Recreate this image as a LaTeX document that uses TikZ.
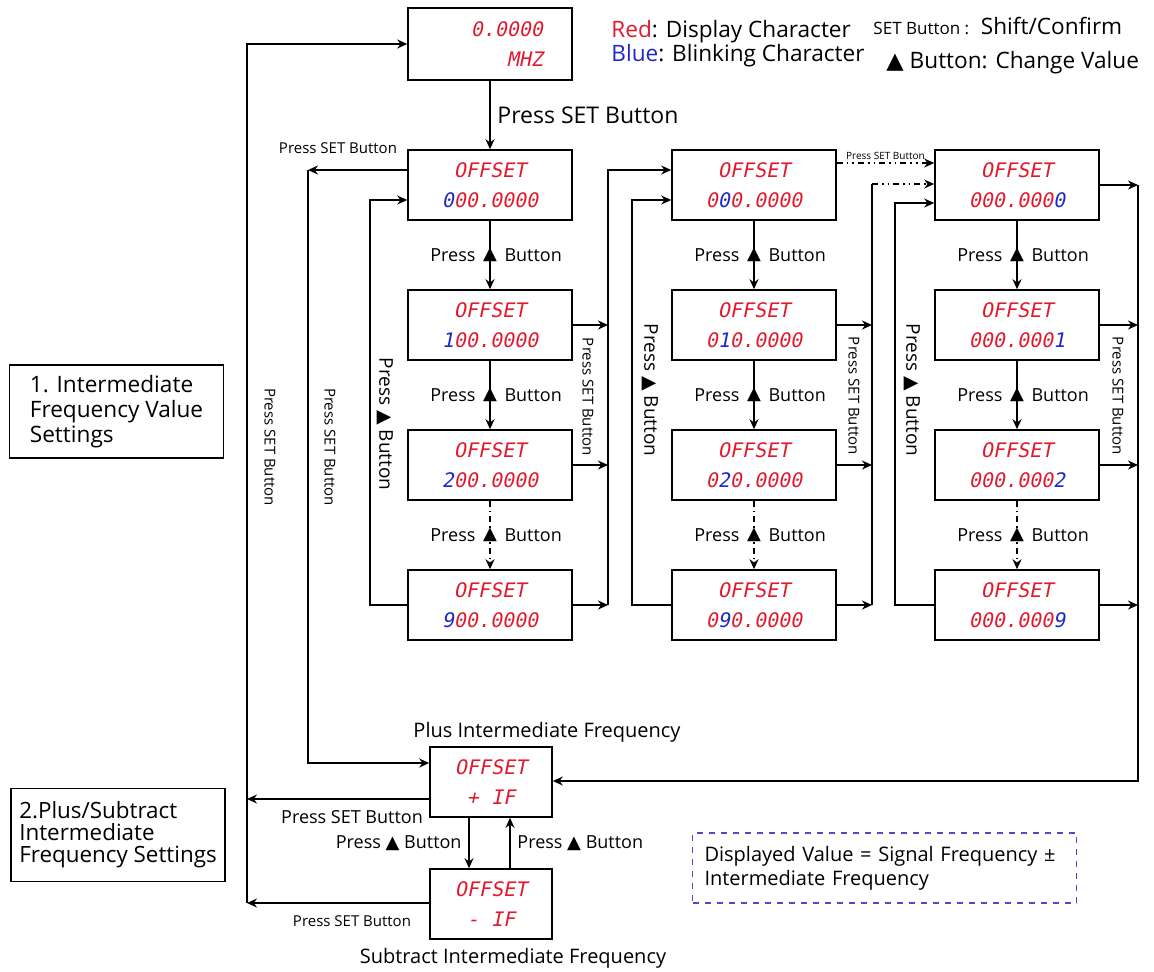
\documentclass[tikz,border=0pt]{standalone}
\usepackage{fontspec}
\setmainfont{Open Sans}
\newfontfamily\lcdfont[FakeSlant=0.2]{DejaVu Sans Mono}
\newfontfamily\symfont{DejaVu Sans}
\usetikzlibrary{arrows.meta}
\definecolor{lcdred}{RGB}{225,25,45}
\definecolor{lcdblue}{RGB}{30,40,200}
\definecolor{notecol}{RGB}{85,70,200}
\newcommand{\tri}{{\symfont ▲}}
\newcommand{\digits}[3]{\textcolor{lcdred}{#1}\textcolor{lcdblue}{#2}\textcolor{lcdred}{#3}}
\tikzset{
  >={Stealth[length=5pt,width=4.5pt]},
  lcd/.style={draw, thick, minimum width=82pt, minimum height=35pt, inner sep=0pt,
    align=center, text=lcdred, font=\lcdfont\fontsize{10}{15}\selectfont},
  secbox/.style={draw, thick, minimum width=107pt, minimum height=46.5pt, align=left},
  btnlab/.style={font=\fontsize{9}{10}\selectfont, inner sep=2.5pt},
  btn/.style={inner sep=0.5pt, font=\fontsize{9}{10}\selectfont,
    label={[btnlab]left:Press}, label={[btnlab]right:Button}},
  vset/.style={rotate=-90, font=\fontsize{7.5}{8}\selectfont},
  vbtn/.style={rotate=-90, font=\fontsize{9.5}{10}\selectfont},
  small/.style={font=\fontsize{7.5}{8}\selectfont},
  skip/.style={dash pattern=on 3pt off 2pt on 0.8pt off 2pt}
}
\begin{document}
\begin{tikzpicture}[x=0.5pt, y=-0.5pt, thick]
\useasboundingbox (0,0) rectangle (1154,971);
% Start display
\node[lcd, text width=53pt, align=right, minimum height=36pt] (mhz) at (490,44) {0.0000\\MHZ};
% Legend
\node[anchor=west, align=left, font=\fontsize{11.3}{12}\selectfont] (key1) at (604,44)
  {\textcolor{lcdred}{Red}: Display Character\\\textcolor{lcdblue}{Blue}: Blinking Character};
\node[anchor=west, font=\fontsize{11.3}{12}\selectfont] (key2) at (866,26)
  {{\fontsize{8.5}{9}\selectfont SET Button :}\ \ Shift/Confirm};
\node[anchor=west, font=\fontsize{11.3}{12}\selectfont] (key3) at (879,63) {\tri{} Button: Change Value};
% Sections
\node[secbox, font=\fontsize{11.3}{12.5}\selectfont] (sec1)
  at (116.5,411.5) {1. Intermediate\\Frequency Value\\Settings};
\node[secbox, font=\fontsize{11.2}{11}\selectfont] (sec2)
  at (118,835) {2.Plus/Subtract\\Intermediate\\Frequency Settings};
% Column of the hundreds digit
\node[lcd] (a1) at (490,185) {OFFSET\\\digits{}{0}{00.0000}};
\node[lcd] (a2) at (490,325) {OFFSET\\\digits{}{1}{00.0000}};
\node[lcd] (a3) at (490,465) {OFFSET\\\digits{}{2}{00.0000}};
\node[lcd] (a4) at (490,605) {OFFSET\\\digits{}{9}{00.0000}};
% Column of the tens digit
\node[lcd] (b1) at (754,185) {OFFSET\\\digits{0}{0}{0.0000}};
\node[lcd] (b2) at (754,325) {OFFSET\\\digits{0}{1}{0.0000}};
\node[lcd] (b3) at (754,465) {OFFSET\\\digits{0}{2}{0.0000}};
\node[lcd] (b4) at (754,605) {OFFSET\\\digits{0}{9}{0.0000}};
% Column of the last digit
\node[lcd] (c1) at (1017,185) {OFFSET\\\digits{000.000}{0}{}};
\node[lcd] (c2) at (1017,325) {OFFSET\\\digits{000.000}{1}{}};
\node[lcd] (c3) at (1017,465) {OFFSET\\\digits{000.000}{2}{}};
\node[lcd] (c4) at (1017,605) {OFFSET\\\digits{000.000}{9}{}};
% Plus / subtract displays
\node[lcd, minimum width=61pt] (plus) at (491,782) {OFFSET\\+ IF};
\node[lcd, minimum width=61pt] (minus) at (491,904) {OFFSET\\- IF};
\node[font=\fontsize{10}{11}\selectfont] (plustxt) at (547,732) {Plus Intermediate Frequency};
\node[font=\fontsize{10}{11}\selectfont] (minustxt) at (513,958) {Subtract Intermediate Frequency};
% Note
\node[draw=notecol, dashed, thick, text width=180pt, inner xsep=6pt, minimum height=35pt,
  align=left, font=\fontsize{10}{12}\selectfont] (note) at (884.5,868)
  {Displayed Value = Signal Frequency ±\\Intermediate Frequency};
% Bus corners
\coordinate (L1) at (247,44); \coordinate (L2) at (247,799); \coordinate (L3) at (247,903);
\coordinate (S1) at (308,170); \coordinate (S2) at (308,763);
\coordinate (A1) at (370,605); \coordinate (A2) at (370,200);
\coordinate (AR1) at (608,170); \coordinate (AR2) at (608,605);
\coordinate (B1) at (632,605); \coordinate (B2) at (632,200);
\coordinate (BR1) at (872,184); \coordinate (BR2) at (872,605);
\coordinate (C1) at (895,605); \coordinate (C2) at (895,203);
\coordinate (CR1) at (1138,185); \coordinate (CR2) at (1138,781);
% Start -> first digit
\draw[->] (mhz) -- node[right, font=\fontsize{11.5}{12}\selectfont] (set0) {Press SET Button} (a1);
% Back to start
\draw[->] (plus.west |- L2) -- (L2);
\draw[->] (minus.west |- L3) -- (L3);
\draw[->] (L3) -- (L1) -- (mhz.west);
\node[font=\fontsize{9}{10}\selectfont] (setp) at (352,817) {Press SET Button};
\node[small] (setm) at (352,921) {Press SET Button};
\node[vset] (vset1) at (270,447) {Press SET Button};
% First digit -> plus
\draw[->] (a1.west |- S1) -- (S1);
\draw[->] (S1) -- (S2) -- (plus.west |- S2);
\node[small] (set1) at (338,148) {Press SET Button};
\node[vset] (vset2) at (330,447) {Press SET Button};
% Hundreds digit
\draw[->] (a1) -- node[btn] (pa1) {\tri} (a2);
\draw[->] (a2) -- node[btn] (pa2) {\tri} (a3);
\draw[->, skip] (a3) -- node[btn] (pa3) {\tri} (a4);
\draw[->] (a4.west |- A1) -- (A1) -- (A2) -- (a1.west |- A2);
\node[vbtn] (va) at (385,424) {Press \tri{} Button};
\draw[->] (a2.east) -- (a2.east -| AR1);
\draw[->] (a3.east) -- (a3.east -| AR1);
\draw[->] (a4.east) -- (AR2);
\draw[->] (AR2) -- (AR1) -- (b1.west |- AR1);
\node[vset] (vseta) at (588,397) {Press SET Button};
% Tens digit
\draw[->] (b1) -- node[btn] (pb1) {\tri} (b2);
\draw[->] (b2) -- node[btn] (pb2) {\tri} (b3);
\draw[->, skip] (b3) -- node[btn] (pb3) {\tri} (b4);
\draw[->] (b4.west |- B1) -- (B1) -- (B2) -- (b1.west |- B2);
\node[vbtn] (vb) at (650,390) {Press \tri{} Button};
\draw[->] (b2.east) -- (b2.east -| BR1);
\draw[->] (b3.east) -- (b3.east -| BR1);
\draw[->] (b4.east) -- (BR2);
\draw (BR2) -- (BR1);
\draw[->, dash dot dot] (BR1) -- (c1.west |- BR1);
\draw[->, dash dot dot] ([yshift=11pt]b1.east) -- node[above, font=\fontsize{5}{6}\selectfont, inner sep=1.5pt] (set2) {Press SET Button} ([yshift=11pt]c1.west);
\node[vset] (vsetb) at (854,396) {Press SET Button};
% Last digit
\draw[->] (c1) -- node[btn] (pc1) {\tri} (c2);
\draw[->] (c2) -- node[btn] (pc2) {\tri} (c3);
\draw[->, skip] (c3) -- node[btn] (pc3) {\tri} (c4);
\draw[->] (c4.west |- C1) -- (C1) -- (C2) -- (c1.west |- C2);
\node[vbtn] (vc) at (912,390) {Press \tri{} Button};
\draw[->] (c1.east) -- (c1.east -| CR1);
\draw[->] (c2.east) -- (c2.east -| CR1);
\draw[->] (c3.east) -- (c3.east -| CR1);
\draw[->] (c4.east) -- (c4.east -| CR1);
\draw[->] (CR1) -- (CR2) -- (plus.east |- CR2);
\node[vset] (vsetc) at (1118,396) {Press SET Button};
% Plus <-> subtract
\draw[->] ([xshift=-11pt]plus.south) -- node[left, font=\fontsize{9}{10}\selectfont] (pp) {Press \tri{} Button} ([xshift=-11pt]minus.north);
\draw[->] ([xshift=9.5pt]minus.north) -- node[right, font=\fontsize{9}{10}\selectfont] (pm) {Press \tri{} Button} ([xshift=9.5pt]plus.south);
\end{tikzpicture}
\end{document}
